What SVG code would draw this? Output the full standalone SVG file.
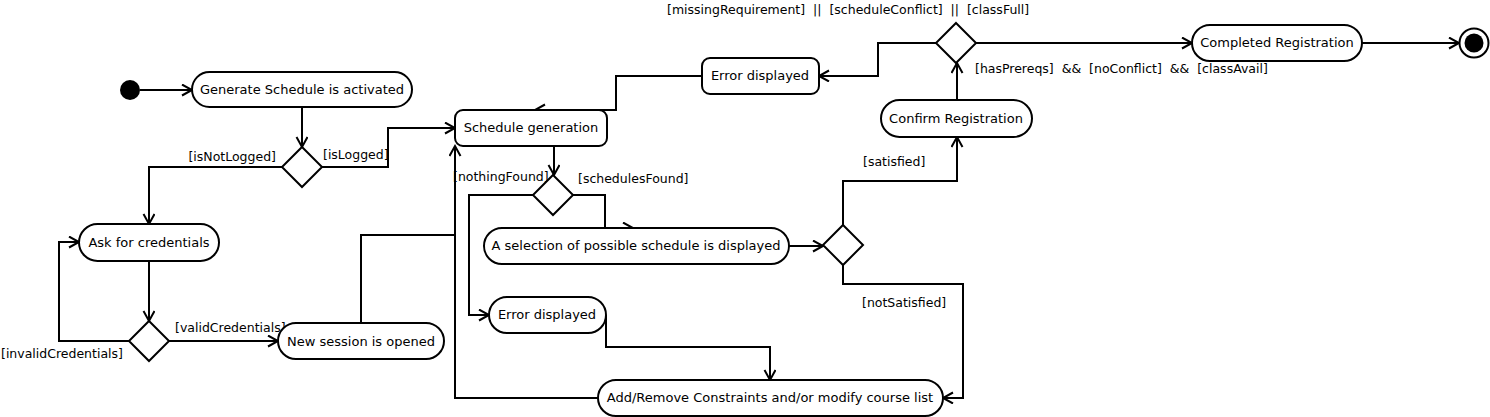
<svg xmlns="http://www.w3.org/2000/svg" width="1490" height="417" viewBox="0 0 1490 417">
<style>
.n{fill:#fff;stroke:#000;stroke-width:2}
.d{fill:#fff;stroke:#000;stroke-width:2}
.c{fill:none;stroke:#000;stroke-width:2}
.a{marker-end:url(#arr)}
text{font-family:"DejaVu Sans",sans-serif;font-size:12.5px;fill:#000}
.t{text-anchor:middle;font-size:13px}
</style>
<defs>
<marker id="arr" markerUnits="userSpaceOnUse" markerWidth="14" markerHeight="14" refX="11" refY="6" orient="auto">
<path d="M1,0.5 L11,6 L1,11.5" fill="none" stroke="#000" stroke-width="2"/>
</marker>
</defs>
<rect width="1490" height="417" fill="#fff"/>
<g id="connectors">
<path class="c a" d="M140,90 H192"/>
<path class="c a" d="M302,107 V147"/>
<path class="c a" d="M282,167 H149 V224"/>
<path class="c a" d="M322,167 H388 V128 H455"/>
<path class="c a" d="M149,261 V321"/>
<path class="c a" d="M129,341 H59 V242 H79"/>
<path class="c a" d="M169,341 H278"/>
<path class="c" d="M361,323 V235 H455"/>
<path class="c a" d="M598,398 H455 V146"/>
<path class="c a" d="M554,146 V175"/>
<path class="c a" d="M533,195 H469 V315 H489"/>
<path class="c a" d="M573,195 H605 V228 H633"/>
<path class="c a" d="M789,246 H823"/>
<path class="c a" d="M843,225 V181 H957 V137"/>
<path class="c a" d="M843,265 V284 H963 V398 H943"/>
<path class="c a" d="M606,315 V347 H770 V380"/>
<path class="c a" d="M957,100 V63"/>
<path class="c a" d="M936,43 H878 V76 H819"/>
<path class="c a" d="M702,76 H616 V110 H535"/>
<path class="c a" d="M975,43 H1192"/>
<path class="c a" d="M1362,43 H1459"/>
<text x="276" y="161" text-anchor="end">[isNotLogged]</text>
<text x="323" y="159">[isLogged]</text>
<text x="1" y="358">[invalidCredentials]</text>
<text x="175" y="332">[validCredentials]</text>
<text x="453" y="181">[nothingFound]</text>
<text x="578" y="183">[schedulesFound]</text>
<text x="863" y="166">[satisfied]</text>
<text x="862" y="307">[notSatisfied]</text>
<text x="667" y="14" xml:space="preserve">[missingRequirement]  ||  [scheduleConflict]  ||  [classFull]</text>
<text x="975" y="73" xml:space="preserve">[hasPrereqs]  &amp;&amp;  [noConflict]  &amp;&amp;  [classAvail]</text>
</g>
<g id="start"><circle cx="130" cy="90" r="10" fill="#000"/></g>
<g id="generate"><rect class="n" x="192" y="72" width="220" height="35" rx="17.5"/><text class="t" x="302" y="94">Generate Schedule is activated</text></g>
<g id="dec1"><path class="d" d="M302,147 L322,167 L302,187 L282,167 Z"/></g>
<g id="ask"><rect class="n" x="79" y="224" width="140" height="37" rx="18.5"/><text class="t" x="149" y="247">Ask for credentials</text></g>
<g id="dec2"><path class="d" d="M149,321 L169,341 L149,361 L129,341 Z"/></g>
<g id="session"><rect class="n" x="278" y="323" width="166" height="36" rx="18"/><text class="t" x="361" y="346">New session is opened</text></g>
<g id="schedgen"><rect class="n" x="455" y="110" width="152" height="36" rx="8"/><text class="t" x="531" y="132">Schedule generation</text></g>
<g id="dec3"><path class="d" d="M553,175 L573,195 L553,215 L533,195 Z"/></g>
<g id="selection"><rect class="n" x="484" y="228" width="305" height="36" rx="18"/><text class="t" x="636" y="250">A selection of possible schedule is displayed</text></g>
<g id="error2"><rect class="n" x="489" y="297" width="117" height="36" rx="18"/><text class="t" x="547" y="319">Error displayed</text></g>
<g id="addremove"><rect class="n" x="598" y="380" width="345" height="36" rx="18"/><text class="t" x="770" y="402">Add/Remove Constraints and/or modify course list</text></g>
<g id="dec4"><path class="d" d="M843,225 L863,245 L843,265 L823,245 Z"/></g>
<g id="confirm"><rect class="n" x="881" y="100" width="151" height="37" rx="18.5"/><text class="t" x="956" y="123">Confirm Registration</text></g>
<g id="dec5"><path class="d" d="M956,23 L976,43 L956,63 L936,43 Z"/></g>
<g id="error1"><rect class="n" x="702" y="58" width="117" height="36" rx="8"/><text class="t" x="760" y="80">Error displayed</text></g>
<g id="completed"><rect class="n" x="1192" y="25" width="170" height="36" rx="18"/><text class="t" x="1277" y="47">Completed Registration</text></g>
<g id="end"><circle cx="1474" cy="43" r="14.5" fill="#fff" stroke="#000" stroke-width="2"/><circle cx="1474" cy="43" r="9.5" fill="#000"/></g>
</svg>
